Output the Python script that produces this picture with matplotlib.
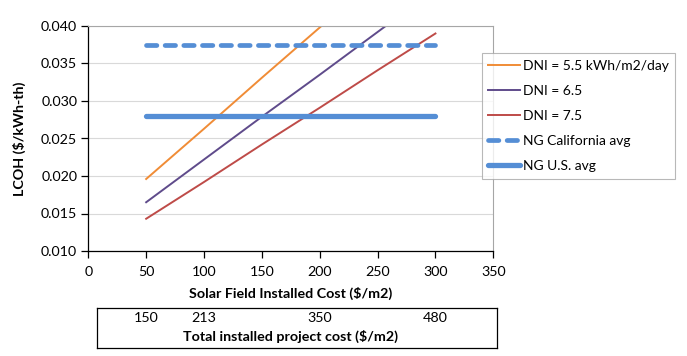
import matplotlib
matplotlib.use("Agg")
import matplotlib.pyplot as plt
import matplotlib.transforms as mtransforms

plt.rcParams['font.family'] = ['Lato', 'DejaVu Sans']

# Data
solar_cost = [50, 100, 150, 200, 250, 300]
dni_55 = [0.0196, 0.0263, 0.0331, 0.0398, 0.0465, 0.0533]
dni_65 = [0.0165, 0.0222, 0.0279, 0.0335, 0.0392, 0.0449]
dni_75 = [0.0143, 0.0192, 0.0242, 0.0291, 0.0341, 0.0390]
ng_california = [0.0374] * 6
ng_us = [0.0280] * 6

total_cost_pos = [50, 100, 200, 300]
total_cost_labels = ["150", "213", "350", "480"]

W, H = 687, 356
FS = 10.3
fig = plt.figure(figsize=(W / 100, H / 100), dpi=100)
fig.patch.set_facecolor('white')

L, R, T, B = 88.3, 493.3, 26, 251
ax = fig.add_axes([L / W, 1 - B / H, (R - L) / W, (B - T) / H])

c_or = '#F08C36'
c_pu = '#5F4B8B'
c_re = '#BE4B48'
c_bl = '#558ED5'

ax.plot(solar_cost, dni_55, color=c_or, lw=1.4, label='DNI = 5.5 kWh/m2/day')
ax.plot(solar_cost, dni_65, color=c_pu, lw=1.4, label='DNI = 6.5')
ax.plot(solar_cost, dni_75, color=c_re, lw=1.4, label='DNI = 7.5')
ax.plot(solar_cost, ng_california, color=c_bl, lw=3.4, ls=(0, (2.2, 1.75)),
        dash_capstyle='round', label='NG California avg')
ax.plot(solar_cost, ng_us, color=c_bl, lw=3.8, solid_capstyle='round',
        label='NG U.S. avg')

ax.set_xlim(0, 350)
ax.set_ylim(0.010, 0.040)
ax.set_xticks(range(0, 351, 50))
ax.set_yticks([0.010, 0.015, 0.020, 0.025, 0.030, 0.035, 0.040])
ax.set_yticklabels([f"{v:.3f}" for v in ax.get_yticks()])
ax.yaxis.grid(True, color='#D9D9D9', lw=0.8)
ax.set_axisbelow(True)
for s in ['top', 'right']:
    ax.spines[s].set_color('#A6A6A6')
    ax.spines[s].set_linewidth(0.8)
for s in ['left', 'bottom']:
    ax.spines[s].set_color('black')
    ax.spines[s].set_linewidth(0.9)
ax.tick_params(axis='both', direction='out', length=5, width=0.9, labelsize=FS,
               colors='black')
ax.tick_params(axis='x', pad=6)
ax.tick_params(axis='y', pad=3)

ax.set_xlabel('Solar Field Installed Cost ($/m2)', fontsize=FS, fontweight='bold',
              labelpad=6)
ax.set_ylabel('LCOH ($/kWh-th)', fontsize=FS, fontweight='bold', labelpad=11)

leg = ax.legend(loc='upper left',
                bbox_to_anchor=((481.7 - L) / (R - L), 1 - (53.3 - T) / (B - T)),
                borderaxespad=0, frameon=True, fancybox=False, fontsize=10,
                handlelength=2.3, handletextpad=0.2, labelspacing=0.95,
                borderpad=0.45)
leg.get_frame().set_edgecolor('#A6A6A6')
leg.get_frame().set_linewidth(0.8)

# Secondary box with total project cost
bl, br, bt, bb = 97.3, 496.7, 307.7, 348.3
ax2 = fig.add_axes([bl / W, 1 - bb / H, (br - bl) / W, (bb - bt) / H])
ax2.set_xlim((bl - L) / (R - L) * 350, (br - L) / (R - L) * 350)
ax2.set_ylim(0, 1)
ax2.set_xticks([])
ax2.set_yticks([])
for s in ax2.spines.values():
    s.set_color('black')
    s.set_linewidth(0.9)
for p, lab in zip(total_cost_pos, total_cost_labels):
    ax2.text(p, 0.74, lab, ha='center', va='center', fontsize=FS)
ax2.text(0.5 * (L + R), 0.30, 'Total installed project cost ($/m2)', ha='center',
         va='center', fontsize=FS, fontweight='bold',
         transform=mtransforms.blended_transform_factory(
             mtransforms.IdentityTransform(), ax2.transAxes))

fig.savefig('out.png', dpi=100, facecolor='white')
